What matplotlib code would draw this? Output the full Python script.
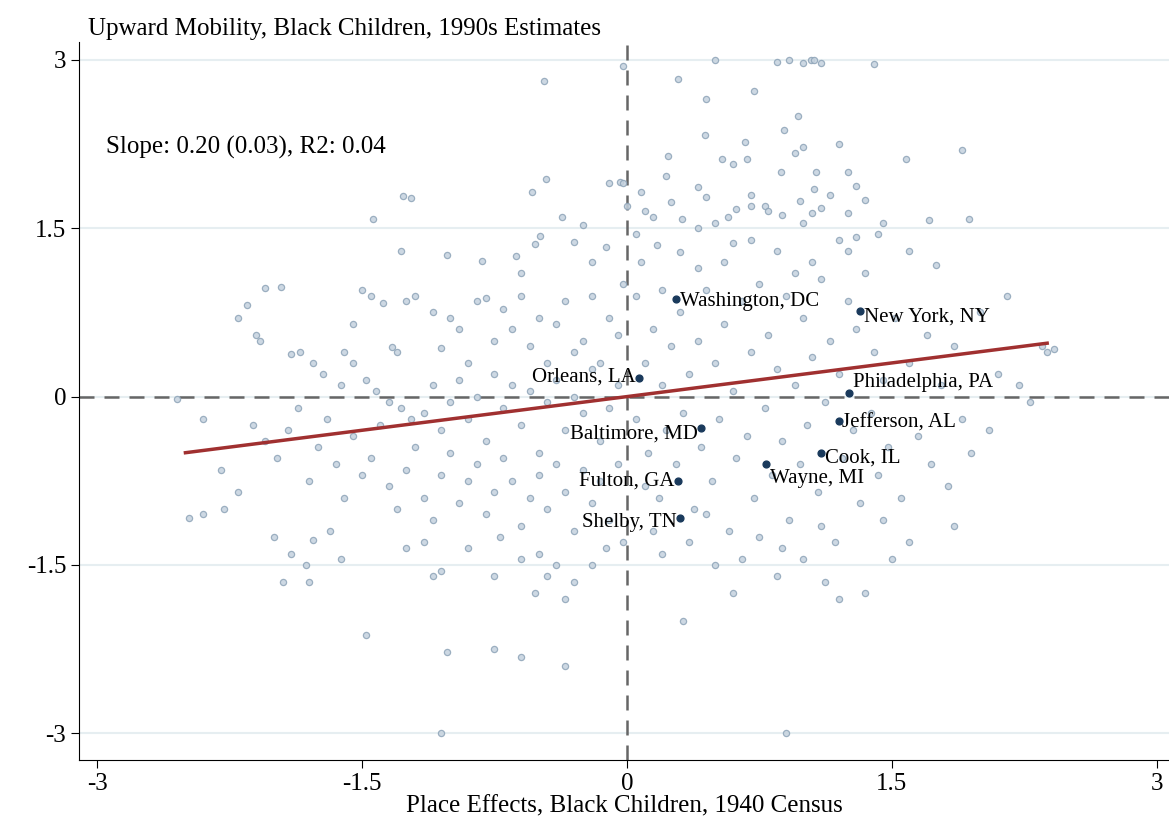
import numpy as np
import matplotlib.pyplot as plt

plt.rcParams['font.family'] = ['Liberation Serif', 'DejaVu Serif']

# background counties (x = 1940 place effect, y = 1990s upward mobility)
pts = [
 (0.5,3.0),(0.92,3.0),(1.0,2.97),(1.04,3.0),(1.06,3.0),(1.1,2.97),(1.4,2.96),(0.85,2.98),(0.29,2.83),(-0.47,2.81),
 (-0.02,2.95),(0.72,2.72),(0.45,2.65),(0.97,2.5),(0.89,2.38),(0.44,2.33),(0.67,2.27),(1.0,2.22),(1.2,2.25),(1.58,2.12),
 (1.9,2.2),(0.68,2.12),(0.95,2.17),(0.54,2.12),(0.23,2.14),(1.07,2.0),(1.25,2.0),(0.6,2.07),(0.87,2.0),(0.22,1.97),
 (0.08,1.82),(0.4,1.87),(1.3,1.88),(1.06,1.85),(-0.1,1.9),(-0.04,1.91),(-0.02,1.9),(-0.46,1.94),(0.7,1.8),(1.15,1.8),
 (1.35,1.75),(0.45,1.78),(-0.54,1.82),(-1.27,1.79),(-1.22,1.77),(0.25,1.73),(0.62,1.67),(0.7,1.7),(0.78,1.7),(0.8,1.65),
 (0.88,1.62),(0.98,1.74),(1.05,1.64),(1.1,1.68),(1.25,1.64),(1.45,1.55),(1.71,1.57),(1.94,1.58),(0.0,1.7),(0.1,1.65),
 (0.15,1.6),(-1.44,1.58),(-0.37,1.6),(-0.25,1.53),(0.31,1.58),(0.4,1.5),(0.5,1.55),(0.57,1.6),(1.0,1.55),(-0.49,1.43),
 (-0.52,1.36),(-0.3,1.38),(0.05,1.45),(0.17,1.35),(0.3,1.29),(0.6,1.37),(1.2,1.4),(1.3,1.42),(1.42,1.45),(1.6,1.3),
 (-1.02,1.26),(-1.28,1.3),(-0.82,1.21),(-0.63,1.25),(-0.6,1.1),(-0.2,1.2),(-0.12,1.33),(-1.96,0.98),(-2.05,0.97),
 (-2.2,0.7),(-2.15,0.82),(-2.1,0.55),(-2.08,0.5),(-1.9,0.38),(-1.85,0.4),(-1.78,0.3),(-1.72,0.2),(-1.62,0.1),
 (-1.55,0.65),(-1.5,0.95),(-1.45,0.9),(-1.38,0.83),(-1.33,0.44),(-1.3,0.4),(-1.25,0.85),(-1.2,0.9),(-1.1,0.75),
 (-1.05,0.43),(-1.0,0.7),(-0.95,0.6),(-0.9,0.3),(-0.85,0.85),(-0.8,0.88),(-0.75,0.5),(-0.7,0.78),(-0.65,0.6),
 (-0.6,0.9),(-0.55,0.45),(-0.5,0.7),(-0.45,0.3),(-0.4,0.65),(-0.35,0.85),(-0.3,0.4),(-0.25,0.5),(-0.2,0.9),
 (-0.15,0.3),(-0.1,0.7),(-0.05,0.55),(-0.02,1.0),(-1.6,0.4),(-1.55,0.3),(-1.48,0.15),(-1.42,0.05),(-1.35,-0.05),
 (-1.28,-0.1),(-1.22,-0.2),(-1.15,-0.15),(-1.1,0.1),(-1.05,-0.3),(-1.0,-0.05),(-0.95,0.15),(-0.9,-0.2),(-0.85,0.0),
 (-0.8,-0.4),(-0.75,0.2),(-0.7,-0.1),(-0.65,0.1),(-0.6,-0.25),(-0.55,0.05),(-0.5,-0.5),(-0.45,-0.05),(-0.4,0.15),
 (-0.35,-0.3),(-0.3,0.0),(-0.25,-0.15),(-0.2,0.25),(-0.15,-0.4),(-0.1,-0.1),(-0.05,0.1),(-2.55,-0.02),(-2.4,-0.2),
 (-2.3,-0.65),(-2.2,-0.85),(-2.12,-0.25),(-2.05,-0.4),(-1.98,-0.55),(-1.92,-0.3),(-1.86,-0.1),(-1.8,-0.75),
 (-1.75,-0.45),(-1.7,-0.2),(-1.65,-0.6),(-1.6,-0.9),(-1.55,-0.35),(-1.5,-0.7),(-1.45,-0.55),(-1.4,-0.25),
 (-1.35,-0.8),(-1.3,-1.0),(-1.25,-0.65),(-1.2,-0.45),(-1.15,-0.9),(-1.1,-1.1),(-1.05,-0.7),(-1.0,-0.5),
 (-0.95,-0.95),(-0.9,-0.75),(-0.85,-0.6),(-0.8,-1.05),(-0.75,-0.85),(-0.7,-0.55),(-0.65,-0.75),(-0.6,-1.15),
 (-0.55,-0.9),(-0.5,-0.7),(-0.45,-1.0),(-0.4,-0.6),(-0.35,-0.85),(-0.3,-1.2),(-0.25,-0.65),(-0.2,-0.95),
 (-0.15,-0.75),(-0.1,-1.1),(-0.05,-0.6),(-0.02,-1.3),(-2.4,-1.05),(-2.48,-1.08),(-2.28,-1.0),(-2.0,-1.25),
 (-1.9,-1.4),(-1.82,-1.5),(-1.78,-1.28),(-1.68,-1.2),(-1.62,-1.45),(-1.95,-1.65),(-1.8,-1.65),(-1.48,-2.12),
 (-1.25,-1.35),(-1.15,-1.3),(-1.1,-1.6),(-1.05,-1.55),(-0.9,-1.35),(-0.75,-1.6),(-0.72,-1.25),(-0.6,-1.45),
 (-0.52,-1.75),(-0.45,-1.6),(-0.4,-1.5),(-0.35,-1.8),(-0.3,-1.65),(-0.2,-1.5),(-0.12,-1.35),(-0.5,-1.4),
 (-1.02,-2.28),(-0.75,-2.25),(-0.6,-2.32),(-0.35,-2.4),(-1.05,-3.0),(0.9,-3.0),
 (0.05,-0.2),(0.1,0.3),(0.12,-0.5),(0.15,0.6),(0.18,-0.9),(0.2,0.1),(0.22,-0.3),(0.25,0.45),(0.28,-0.6),
 (0.3,0.75),(0.32,-0.15),(0.35,0.2),(0.38,-1.0),(0.4,0.5),(0.42,-0.45),(0.45,0.95),(0.48,-0.75),(0.5,0.3),
 (0.52,-0.2),(0.55,0.65),(0.58,-1.2),(0.6,0.05),(0.62,-0.55),(0.65,0.85),(0.68,-0.35),(0.7,0.4),(0.72,-0.9),
 (0.75,1.0),(0.78,-0.1),(0.8,0.55),(0.82,-0.7),(0.85,0.25),(0.88,-0.4),(0.9,0.9),(0.92,-1.1),(0.95,0.1),
 (0.98,-0.6),(1.0,0.7),(1.02,-0.25),(1.05,0.35),(1.08,-0.85),(1.1,1.05),(1.12,-0.05),(1.15,0.5),(1.18,-1.3),
 (1.2,0.2),(1.22,-0.55),(1.25,0.85),(1.28,-0.3),(1.3,0.6),(1.32,-0.95),(1.35,1.1),(1.38,-0.15),(1.4,0.4),
 (1.42,-0.7),(1.45,0.15),(1.48,-0.45),(1.52,0.7),(1.55,-0.9),(1.6,0.3),(1.65,-0.35),(1.7,0.55),(1.72,-0.6),
 (1.78,0.1),(1.82,-0.8),(1.85,0.45),(1.9,-0.2),(1.95,-0.5),(2.0,0.75),(2.05,-0.3),(2.1,0.2),(2.15,0.9),
 (2.22,0.1),(2.28,-0.05),(2.35,0.45),(2.38,0.4),(2.42,0.42),(1.75,1.17),(1.05,1.2),(1.25,1.3),(0.95,1.1),
 (0.35,-1.3),(0.5,-1.5),(0.65,-1.45),(0.75,-1.25),(0.85,-1.6),(1.0,-1.45),(1.12,-1.65),(1.2,-1.8),(1.35,-1.75),
 (1.5,-1.45),(1.6,-1.3),(1.85,-1.15),(0.32,-2.0),(0.6,-1.75),(0.88,-1.35),(1.1,-1.15),(0.45,-1.05),(1.45,-1.1),
 (0.15,-1.2),(0.2,-1.4),(0.1,-0.8),(0.05,0.9),(0.08,1.2),(0.2,0.95),(0.55,1.2),(0.4,1.15),(0.7,1.4),(0.85,1.3),
]
x_pts = [p[0] for p in pts]
y_pts = [p[1] for p in pts]

# highlighted counties
lab_names = ["Washington, DC", "New York, NY", "Orleans, LA", "Philadelphia, PA", "Jefferson, AL",
             "Baltimore, MD", "Cook, IL", "Wayne, MI", "Fulton, GA", "Shelby, TN"]
lab_x = [0.28, 1.32, 0.07, 1.26, 1.20, 0.42, 1.10, 0.79, 0.29, 0.30]
lab_y = [0.87, 0.76, 0.17, 0.03, -0.22, -0.28, -0.50, -0.60, -0.75, -1.08]
lab_side = ["r", "r", "l", "r", "r", "l", "r", "r", "l", "l"]
lab_dy = [-0.02, -0.05, 0.0, 0.1, -0.02, -0.05, -0.05, -0.13, 0.0, -0.04]

slope, intercept = 0.20, 0.0
fit_x = np.array([-2.5, 2.38])

fig = plt.figure(figsize=(11.69, 8.40), dpi=100)
ax = fig.add_axes([0.068, 0.095, 0.932, 0.855])

for t in [-3, -1.5, 0, 1.5, 3]:
    ax.axhline(t, color='#e6eef1', lw=1.5, zorder=0)
ax.axhline(0, color='#666666', lw=1.8, ls=(0, (6, 4)), zorder=1)
ax.axvline(0, color='#666666', lw=1.8, ls=(0, (6, 4)), zorder=1)

ax.scatter(x_pts, y_pts, s=20, facecolor='#c5d2de', edgecolor='#8ea4b8', linewidth=0.9, alpha=0.85, zorder=2)
ax.plot(fit_x, intercept + slope * fit_x, color='#a03030', lw=2.5, zorder=3)
ax.scatter(lab_x, lab_y, s=24, color='#1a3a5c', zorder=4)
for n, xx, yy, sd, dy in zip(lab_names, lab_x, lab_y, lab_side, lab_dy):
    if sd == "r":
        ax.text(xx + 0.02, yy + dy, n, fontsize=15, ha='left', va='center', zorder=5)
    else:
        ax.text(xx - 0.02, yy + dy, n, fontsize=15, ha='right', va='center', zorder=5)

ax.text(-2.95, 2.17, "Slope: 0.20 (0.03), R2: 0.04", fontsize=18)

ax.set_xlim(-3.1, 3.07)
ax.set_ylim(-3.24, 3.16)
ax.set_xticks([-3, -1.5, 0, 1.5, 3])
ax.set_xticklabels(["-3", "-1.5", "0", "1.5", "3"])
ax.set_yticks([-3, -1.5, 0, 1.5, 3])
ax.set_yticklabels(["-3", "-1.5", "0", "1.5", "3"])
ax.tick_params(labelsize=18, length=6, direction='out')
ax.spines['top'].set_visible(False)
ax.spines['right'].set_visible(False)
ax.set_xlabel("Place Effects, Black Children, 1940 Census", fontsize=18, labelpad=0)
fig.text(0.075, 0.965, "Upward Mobility, Black Children, 1990s Estimates", fontsize=18, va='center')

fig.savefig("out.png", dpi=100)
